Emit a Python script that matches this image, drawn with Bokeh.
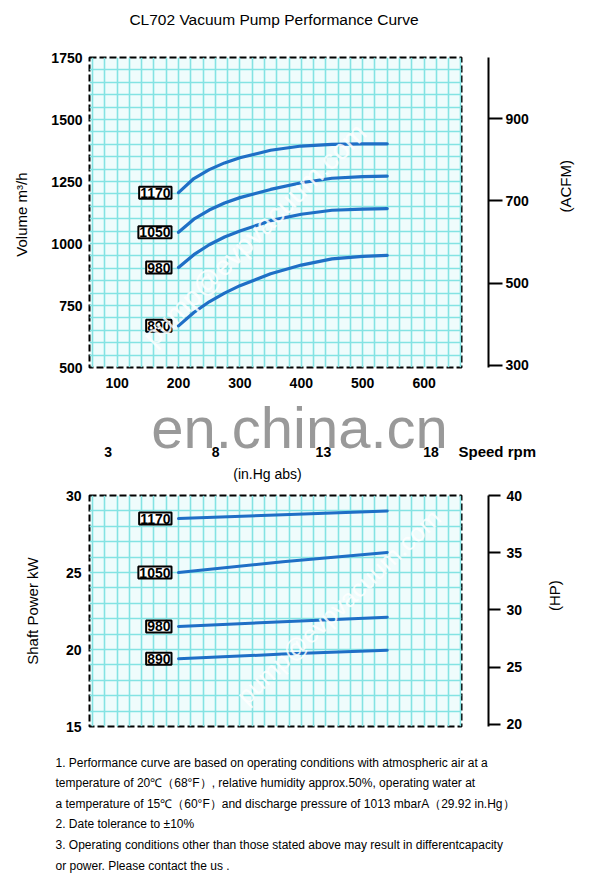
import math
from bokeh.plotting import figure
from bokeh.models import Range1d, LinearAxis, FixedTicker, SingleIntervalTicker, Label, ColumnDataSource
from bokeh.layouts import column, row
from bokeh.core.properties import value
from bokeh.embed import file_html
from bokeh.resources import INLINE

# ---------------- data ----------------
TITLE = "CL702 Vacuum Pump Performance Curve"
speeds = ["1170", "1050", "980", "890"]

pressure_mbar = [200, 225, 250, 275, 300, 350, 400, 450, 500, 540]
volume_1170 = [1205, 1262, 1298, 1325, 1346, 1376, 1393, 1400, 1402, 1402]
volume_1050 = [1045, 1098, 1135, 1163, 1185, 1218, 1245, 1263, 1270, 1272]
volume_980 = [903, 955, 995, 1026, 1050, 1092, 1118, 1134, 1139, 1141]
volume_890 = [668, 722, 765, 800, 830, 878, 913, 938, 948, 952]

power_pressure_mbar = [200, 370, 540]
power_1170 = [28.5, 28.75, 29.0]
power_1050 = [25.0, 25.7, 26.3]
power_980 = [21.5, 21.8, 22.1]
power_890 = [19.4, 19.7, 19.95]

mbar_ticks = [100, 200, 300, 400, 500, 600]
inhg_ticks = [3, 8, 13, 18]
volume_ticks = [500, 750, 1000, 1250, 1500, 1750]
acfm_ticks = [300, 500, 700, 900]
power_ticks = [15, 20, 25, 30]
hp_ticks = [20, 25, 30, 35, 40]

notes = [
    "1. Performance curve are based on operating conditions with atmospheric air at  a",
    "temperature of 20\u2103\uff0868\u00b0F\uff09, relative humidity approx.50%,  operating water at",
    "a temperature of 15\u2103\uff0860\u00b0F\uff09and discharge pressure of 1013 mbarA\uff0829.92 in.Hg\uff09",
    "2. Date tolerance to \u00b110%",
    "3. Operating conditions other than those stated above may result in differentcapacity",
    "or power. Please contact the us .",
]

mbar_range = (55, 661)
inhg_range = (-2.0, 25.64)
volume_range = (500, 1750)
power_range = (15, 30)
hp_range = (19.8, 40.0)
ACFM_PER_M3H = 0.5886

# ---------------- styles ----------------
FONT_RAW = "'Liberation Sans', Arial, sans-serif"
FONT = value(FONT_RAW)
BG = "#effcfc"
GRID = "#84e3e3"
CURVE = "#1f6fc6"


def style_frame(p, y_interval):
    p.background_fill_color = BG
    p.border_fill_color = "white"
    p.outline_line_color = "black"
    p.outline_line_width = 2
    p.outline_line_dash = "7 3"
    p.xgrid.ticker = SingleIntervalTicker(interval=20)
    p.ygrid.ticker = SingleIntervalTicker(interval=y_interval)
    for g in (p.xgrid, p.ygrid):
        g.grid_line_color = GRID
        g.grid_line_width = 1.6
        g.grid_line_alpha = 1.0


def style_axis(ax, size="14px", bold=True):
    ax.axis_line_color = None
    ax.major_tick_line_color = None
    ax.minor_tick_line_color = None
    ax.major_tick_out = 0
    ax.major_tick_in = 0
    ax.major_label_text_font = FONT_RAW
    ax.major_label_text_font_size = size
    ax.major_label_text_font_style = "bold" if bold else "normal"
    ax.major_label_text_color = "black"
    ax.axis_label_text_font = FONT_RAW
    ax.axis_label_text_font_style = "normal"
    ax.axis_label_text_font_size = "15px"
    ax.axis_label_text_color = "black"


def style_side_axis(ax, tick_len):
    ax.axis_line_color = "black"
    ax.axis_line_width = 2
    ax.major_tick_line_color = "black"
    ax.major_tick_line_width = 2
    ax.major_tick_out = tick_len
    ax.major_tick_in = 0
    ax.minor_tick_line_color = None
    ax.major_label_text_font = FONT_RAW
    ax.major_label_text_font_size = "14px"
    ax.major_label_text_font_style = "bold"
    ax.major_label_text_color = "black"
    ax.major_label_standoff = 3
    ax.axis_label_text_font = FONT_RAW
    ax.axis_label_text_font_style = "normal"
    ax.axis_label_text_font_size = "15px"
    ax.axis_label_text_color = "black"
    try:
        ax.axis_label_orientation = math.pi / 2
    except Exception:
        pass


def add_speed_boxes(p, xs, ys):
    src = ColumnDataSource(dict(x=xs, y=ys, t=speeds))
    p.text(x="x", y="y", text="t", source=src, text_align="right", text_baseline="middle",
           x_offset=-7, text_font=FONT, text_font_size="14px", text_font_style="bold",
           text_color="black", background_fill_color="white", border_line_color="black",
           border_line_width=2, padding=1)


def blank(p):
    p.outline_line_color = None
    p.background_fill_color = None
    p.xaxis.visible = False
    p.yaxis.visible = False
    p.grid.visible = False


def strip(width, height, x_range, y_range, left=0):
    p = figure(width=width, height=height, x_range=x_range, y_range=y_range,
               output_backend="svg", toolbar_location=None,
               min_border_left=left, min_border_right=0, min_border_top=0, min_border_bottom=0)
    blank(p)
    p.background_fill_color = "white"
    return p


# ---------------- header ----------------
header = strip(595, 40, Range1d(0, 1), Range1d(0, 1))
header.add_layout(Label(x=273.5, y=21, x_units="screen", y_units="screen", text=TITLE,
                        text_align="center", text_baseline="middle", text_font=FONT_RAW,
                        text_font_size="15.5px", text_color="black"))

# ---------------- top chart ----------------
top = figure(width=463, height=355, x_range=Range1d(*mbar_range), y_range=Range1d(*volume_range),
             output_backend="svg", toolbar_location=None,
             min_border_left=89, min_border_right=2, min_border_top=17, min_border_bottom=28)
style_frame(top, 50)

top.xaxis.ticker = FixedTicker(ticks=mbar_ticks)
style_axis(top.xaxis[0])
top.xaxis.major_label_standoff = 10
top.yaxis.ticker = FixedTicker(ticks=volume_ticks)
style_axis(top.yaxis[0])
top.yaxis.major_label_standoff = 7
top.yaxis.axis_label = "Volume  m\u00b3/h"
top.yaxis.axis_label_standoff = 18

series = [volume_1170, volume_1050, volume_980, volume_890]
for ys in series:
    top.line(pressure_mbar, ys, line_color=CURVE, line_width=3.2, line_cap="round")
add_speed_boxes(top, [pressure_mbar[0]] * 4, [s[0] for s in series])
top.add_layout(Label(x=165, y=133, x_units="screen", y_units="screen", text="pump@evpvacuum.com",
                     angle=44.8, angle_units="deg", text_align="center", text_baseline="middle",
                     text_font="Liberation Sans", text_font_size="28px", text_color="white",
                     text_alpha=0.85))

# right ACFM axis (separate narrow figure so it sits apart from the frame)
px_per_unit = 310 / (volume_range[1] - volume_range[0])
acfm_lo = volume_range[0] * ACFM_PER_M3H
acfm_hi = (volume_range[1] + 8 / px_per_unit) * ACFM_PER_M3H
top_ax = figure(width=132, height=355, x_range=Range1d(0, 1), y_range=Range1d(acfm_lo, acfm_hi),
                output_backend="svg", toolbar_location=None,
                min_border_left=0, min_border_right=107, min_border_top=9, min_border_bottom=28)
blank(top_ax)
acfm_axis = LinearAxis(ticker=FixedTicker(ticks=acfm_ticks), axis_label="(ACFM)")
style_side_axis(acfm_axis, 14)
acfm_axis.axis_label_standoff = 34
top_ax.add_layout(acfm_axis, "right")

# ---------------- middle strip: in.Hg scale ----------------
mid = strip(595, 89, Range1d(*inhg_range), Range1d(0, 1))
mid.add_layout(Label(x=299, y=57, x_units="screen", y_units="screen", text="en.china.cn",
                     text_align="center", text_baseline="middle", text_font="Liberation Sans",
                     text_font_size="58px", text_color="#999999"))
mid.text(x=inhg_ticks, y=[0] * len(inhg_ticks), text=[str(t) for t in inhg_ticks], y_offset=-33,
         text_align="center", text_baseline="middle", text_font=FONT, text_font_size="14px",
         text_font_style="bold", text_color="black")
mid.add_layout(Label(x=458, y=33, x_units="screen", y_units="screen", text="Speed   rpm",
                     text_align="left", text_baseline="middle", text_font=FONT_RAW,
                     text_font_size="15px", text_font_style="bold", text_color="black"))
mid.add_layout(Label(x=267, y=11, x_units="screen", y_units="screen", text="(in.Hg abs)",
                     text_align="center", text_baseline="middle", text_font=FONT_RAW,
                     text_font_size="14px", text_color="black"))

# ---------------- bottom chart ----------------
bot = figure(width=463, height=260, x_range=Range1d(*mbar_range), y_range=Range1d(*power_range),
             output_backend="svg", toolbar_location=None,
             min_border_left=89, min_border_right=2, min_border_top=11, min_border_bottom=18)
style_frame(bot, 1)
bot.xaxis.visible = False
bot.yaxis.ticker = FixedTicker(ticks=power_ticks)
style_axis(bot.yaxis[0])
bot.yaxis.major_label_standoff = 8
bot.yaxis.axis_label = "Shaft Power kW"
bot.yaxis.axis_label_standoff = 22

pseries = [power_1170, power_1050, power_980, power_890]
for ys in pseries:
    bot.line(power_pressure_mbar, ys, line_color=CURVE, line_width=3, line_cap="round")
add_speed_boxes(bot, [power_pressure_mbar[0]] * 4, [s[0] for s in pseries])
bot.add_layout(Label(x=249, y=120, x_units="screen", y_units="screen", text="pump@evpvacuum.com",
                     angle=43.5, angle_units="deg", text_align="center", text_baseline="middle",
                     text_font="Liberation Sans", text_font_size="25px", text_color="white",
                     text_alpha=0.85))

bot_ax = figure(width=132, height=260, x_range=Range1d(0, 1), y_range=Range1d(*hp_range),
                output_backend="svg", toolbar_location=None,
                min_border_left=0, min_border_right=107, min_border_top=11, min_border_bottom=18)
blank(bot_ax)
hp_axis = LinearAxis(ticker=FixedTicker(ticks=hp_ticks), axis_label="(HP)")
style_side_axis(hp_axis, 12)
hp_axis.major_label_standoff = 6
hp_axis.axis_label_standoff = 29
bot_ax.add_layout(hp_axis, "right")

# ---------------- notes ----------------
line_no = list(range(len(notes)))
notes_fig = strip(595, 133, Range1d(0, 1), Range1d(5.58, -0.874))
notes_fig.text(x=[0] * len(notes), y=line_no, text=notes, x_offset=55, text_align="left",
               text_baseline="middle", text_font=FONT, text_font_size="12px", text_color="black")

layout = column(header, row(top, top_ax, spacing=0), mid, row(bot, bot_ax, spacing=0), notes_fig,
                spacing=0)

open("out.html", "w").write(file_html(layout, INLINE))
